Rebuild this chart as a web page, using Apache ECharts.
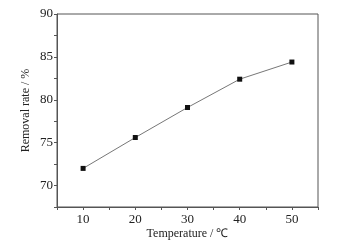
<!DOCTYPE html>
<html><head><meta charset="utf-8">
<script src="https://cdn.jsdelivr.net/npm/echarts@6/dist/echarts.min.js"></script>
<style>html,body{margin:0;padding:0;background:#fff}#c{width:357px;height:248px}</style>
</head><body><div id="c"></div>
<script>
const temperatures = [10, 20, 30, 40, 50];
const removalRate = [72.0, 75.6, 79.1, 82.4, 84.4];
const xTitle = 'Temperature / ℃';
const yTitle = 'Removal rate / %';

const font = '"Liberation Serif","Times New Roman",serif';
const axisCol = '#555';
const chart = echarts.init(document.getElementById('c'), null, {renderer: 'canvas'});
chart.setOption({
  animation: false,
  backgroundColor: '#fff',
  grid: {left: 57, top: 14, right: 39, bottom: 41, show: true, borderColor: axisCol, borderWidth: 1},
  xAxis: {
    type: 'value', min: 5, max: 55, interval: 5,
    name: xTitle, nameLocation: 'middle', nameGap: 21, nameMoveOverlap: false,
    nameTextStyle: {fontFamily: font, fontSize: 12, color: '#222'},
    axisLine: {lineStyle: {color: axisCol, width: 1}},
    axisTick: {show: true, inside: false, length: 3, lineStyle: {color: axisCol}},
    axisLabel: {fontFamily: font, fontSize: 13, color: '#222', margin: 6,
      formatter: v => (v % 10 === 0 ? String(v) : '')},
    splitLine: {show: false}
  },
  yAxis: {
    type: 'value', min: 67.5, max: 90, interval: 2.5,
    name: yTitle, nameLocation: 'middle', nameGap: 25, nameRotate: 90, nameMoveOverlap: false,
    nameTextStyle: {fontFamily: font, fontSize: 12, color: '#222'},
    axisLine: {show: true, lineStyle: {color: axisCol, width: 1}},
    axisTick: {show: true, inside: false, length: 3, lineStyle: {color: axisCol}},
    axisLabel: {fontFamily: font, fontSize: 13, color: '#222', margin: 4,
      formatter: v => (v % 5 === 0 ? String(v) : '')},
    splitLine: {show: false}
  },
  series: [{
    type: 'line',
    data: temperatures.map((t, i) => [t, removalRate[i]]),
    symbol: 'rect', symbolSize: 5,
    lineStyle: {color: '#777', width: 1},
    itemStyle: {color: '#111'}
  }]
});
</script></body></html>
